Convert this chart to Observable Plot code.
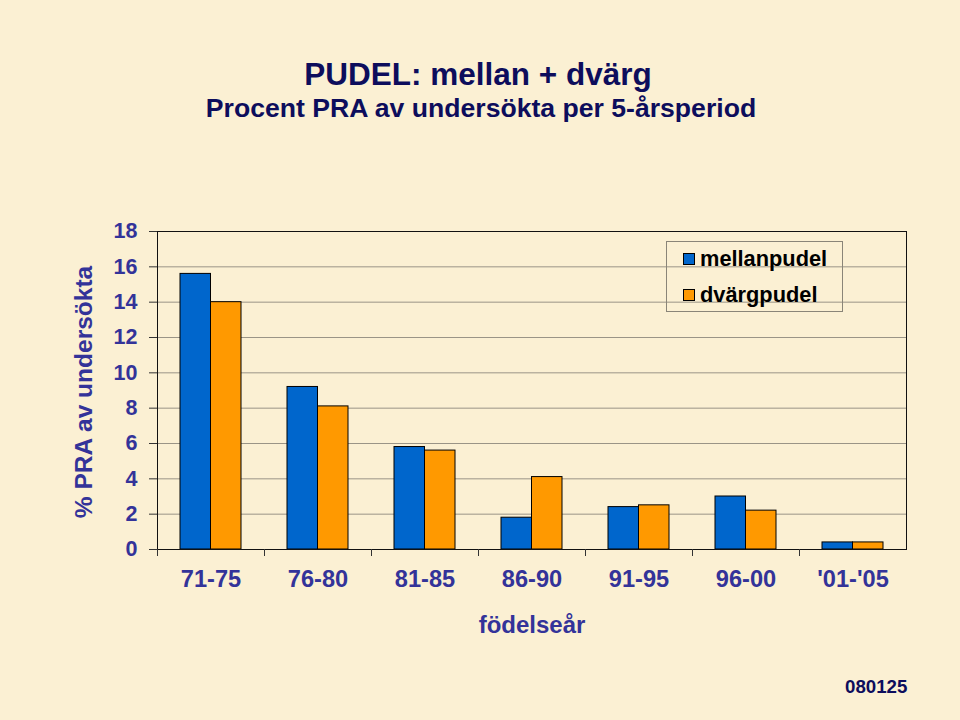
<!DOCTYPE html>
<html>
<head>
<meta charset="utf-8">
<script src="https://cdn.jsdelivr.net/npm/d3@7"></script>
<script src="https://cdn.jsdelivr.net/npm/@observablehq/plot@0.6"></script>
<style>
  html, body { margin: 0; padding: 0; }
  #wrap {
    position: relative; width: 960px; height: 720px; overflow: hidden;
    background: #fbf0d3;
    font-family: Arial, "Liberation Sans", sans-serif; font-weight: bold;
  }
  #wrap svg { position: absolute; left: 0; top: 0; }
  .t { position: absolute; white-space: nowrap; line-height: 1; }
  #title { left: 0; width: 956px; text-align: center; top: 59px; font-size: 31.5px; color: #0d0d5c; }
  #subtitle { left: 0; width: 962px; text-align: center; top: 94.5px; font-size: 26.6px; color: #0d0d5c; }
  #ytitle { left: 84px; top: 392px; font-size: 24.5px; color: #333399; transform: translate(-50%, -50%) rotate(-90deg); }
  #xtitle { left: 532px; top: 612.5px; font-size: 24px; color: #333399; transform: translateX(-50%); }
  #caption { left: 845px; top: 677.5px; font-size: 18.7px; color: #0d0d5c; }
  #legend {
    position: absolute; left: 666px; top: 241px; width: 175px; height: 69px;
    border: 1px solid #8a8578; box-sizing: content-box;
  }
  .li { position: absolute; left: 16px; height: 22px; display: flex; align-items: center; font-size: 21.8px; color: #000; white-space: nowrap; }
  .sw { width: 10px; height: 10px; border: 1px solid #000; margin-right: 5px; flex: none; }
</style>
</head>
<body>
<div id="wrap">
  <div id="chart"></div>
  <div class="t" id="title"></div>
  <div class="t" id="subtitle"></div>
  <div class="t" id="ytitle"></div>
  <div class="t" id="xtitle"></div>
  <div class="t" id="caption"></div>
  <div id="legend"></div>
</div>
<script>
// ---- data ----
const periods = ["71-75", "76-80", "81-85", "86-90", "91-95", "96-00", "'01-'05"];
const seriesNames = ["mellanpudel", "dvärgpudel"];
const mellanpudel = [15.6, 9.2, 5.8, 1.8, 2.4, 3.0, 0.4];
const dvargpudel = [14.0, 8.1, 5.6, 4.1, 2.5, 2.2, 0.4];
const yTicks = [0, 2, 4, 6, 8, 10, 12, 14, 16, 18];
const seriesColors = ["#0066cc", "#ff9900"];
const titleText = "PUDEL: mellan + dvärg";
const subtitleText = "Procent PRA av undersökta per 5-årsperiod";
const yTitleText = "% PRA av undersökta";
const xTitleText = "födelseår";
const captionText = "080125";

// ---- table ----
const table = periods.flatMap((p, i) => [
  {period: p, series: seriesNames[0], value: mellanpudel[i]},
  {period: p, series: seriesNames[1], value: dvargpudel[i]}
]);

// ---- layout ----
const W = 960, H = 720, mL = 157, mR = 54, mT = 231, mB = 171;
const bw = (W - mL - mR) / periods.length;
const barW = 30.5;
const outer = (bw - 2 * barW) / 2;
const textColor = "#333399";

const chart = Plot.plot({
  width: W, height: H,
  marginLeft: mL, marginRight: mR, marginTop: mT, marginBottom: mB,
  style: {background: "transparent", fontFamily: "Arial, 'Liberation Sans', sans-serif", fontWeight: "bold", overflow: "visible"},
  x: {domain: periods, padding: 0, label: null},
  y: {domain: [yTicks[0], yTicks[yTicks.length - 1]], label: null},
  marks: [
    Plot.gridY(yTicks.slice(1, -1), {stroke: "#9a9486", strokeOpacity: 1, strokeWidth: 1}),
    Plot.barY(table.filter(d => d.series === seriesNames[0]), {
      x: "period", y: "value", fill: seriesColors[0], stroke: "#000", strokeWidth: 1,
      insetLeft: outer, insetRight: bw - outer - barW
    }),
    Plot.barY(table.filter(d => d.series === seriesNames[1]), {
      x: "period", y: "value", fill: seriesColors[1], stroke: "#000", strokeWidth: 1,
      insetLeft: outer + barW, insetRight: outer
    }),
    Plot.frame({stroke: "#111", strokeWidth: 1}),
    Plot.axisY(yTicks, {tickSize: 8, tickPadding: 12, stroke: "#333", fill: textColor, fontSize: 21.5, fontWeight: "bold"}),
    Plot.axisX({tickSize: 0, tickPadding: 21, fill: textColor, fontSize: 23.6, fontWeight: "bold"}),
    Plot.axisX({tickSize: 7, tickFormat: () => "", dx: -bw / 2, stroke: "#333"})
  ]
});
document.getElementById("chart").appendChild(chart);

document.getElementById("title").textContent = titleText;
document.getElementById("subtitle").textContent = subtitleText;
document.getElementById("ytitle").textContent = yTitleText;
document.getElementById("xtitle").textContent = xTitleText;
document.getElementById("caption").textContent = captionText;

const legend = document.getElementById("legend");
seriesNames.forEach((name, i) => {
  const row = document.createElement("div");
  row.className = "li";
  row.style.top = (i === 0 ? 6 : 42) + "px";
  const sw = document.createElement("span");
  sw.className = "sw";
  sw.style.background = seriesColors[i];
  const tx = document.createElement("span");
  tx.textContent = name;
  row.appendChild(sw);
  row.appendChild(tx);
  legend.appendChild(row);
});
</script>
</body>
</html>
